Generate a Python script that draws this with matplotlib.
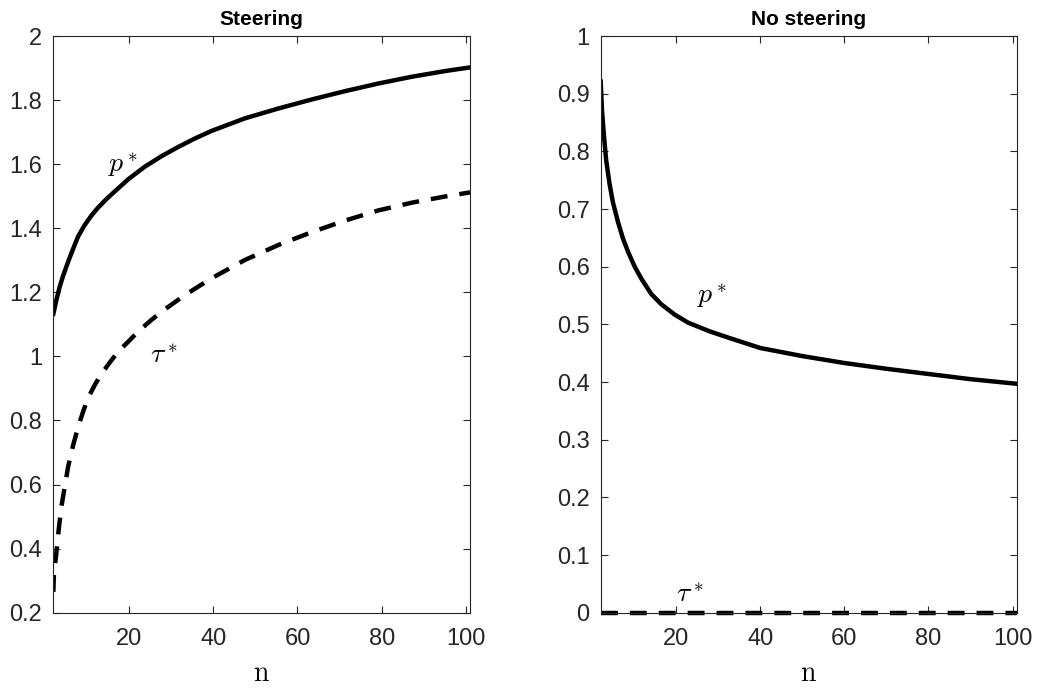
import numpy as np
import matplotlib.pyplot as plt
from matplotlib.ticker import FormatStrFormatter

plt.rcParams['font.family'] = ['Liberation Sans', 'DejaVu Sans']
plt.rcParams['mathtext.fontset'] = 'cm'

# steering
n_p_st = [2, 2.7, 3.5, 4.3, 5.5, 6.7, 7.9, 9.4, 11, 12.6, 14.6, 16.6, 19.8, 23.7, 27.7, 31.7,
          35.6, 39.6, 47.5, 55.5, 63.4, 71.3, 79.3, 87.2, 95.2, 101]
p_st = [1.133, 1.175, 1.217, 1.251, 1.295, 1.336, 1.375, 1.409, 1.439, 1.464, 1.491, 1.515,
        1.553, 1.592, 1.625, 1.654, 1.680, 1.704, 1.743, 1.774, 1.802, 1.828, 1.852, 1.873,
        1.891, 1.902]
n_t_st = [2, 2.14, 2.7, 3.25, 3.9, 4.7, 5.5, 6.7, 7.9, 9.05, 10.2, 11.8, 13.4, 15.4, 17.4, 19.8,
          22.1, 25.3, 28.5, 33.3, 39.6, 47.5, 55.5, 63.4, 71.3, 79.3, 87.2, 95, 101]
t_st = [0.265, 0.322, 0.384, 0.457, 0.530, 0.593, 0.655, 0.723, 0.780, 0.827, 0.869, 0.910,
        0.945, 0.981, 1.015, 1.046, 1.077, 1.114, 1.147, 1.192, 1.244, 1.301, 1.348, 1.388,
        1.424, 1.456, 1.480, 1.499, 1.512]

# no steering
n_p_ns = [2, 2.3, 2.8, 3.3, 4.1, 4.9, 6.1, 7.3, 8.5, 10.1, 11.7, 14, 16.4, 19.6, 22.8, 27.9,
          33, 40, 50, 60, 70, 80, 90, 101]
p_ns = [0.921, 0.872, 0.825, 0.785, 0.744, 0.712, 0.678, 0.649, 0.626, 0.600, 0.579, 0.553,
        0.535, 0.517, 0.503, 0.488, 0.4755, 0.459, 0.445, 0.433, 0.423, 0.414, 0.405, 0.397]
n_t_ns = [2, 101]
t_ns = [0, 0]

fig = plt.figure(figsize=(10.38, 6.89), dpi=100)
ax1 = fig.add_axes([0.0514, 0.1107, 0.4014, 0.837])
ax2 = fig.add_axes([0.5787, 0.1107, 0.4008, 0.837])

gray = '#262626'
lw = 3.2
dash = (3.8, 2.7)

ax1.plot(n_p_st, p_st, color='k', lw=lw)
ax1.plot(n_t_st, t_st, color='k', lw=lw, ls='--', dashes=dash)
ax1.text(15, 1.6, r'$p^*$', fontsize=20, va='center', ha='left')
ax1.text(25, 1.0, r'$\tau^*$', fontsize=20, va='center', ha='left')
ax1.set_ylim(0.2, 2)
ax1.set_yticks(np.arange(0.2, 2.01, 0.2))
ax1.set_title('Steering', fontsize=15, fontweight='bold', pad=8)

ax2.plot(n_p_ns, p_ns, color='k', lw=lw)
ax2.plot(n_t_ns, t_ns, color='k', lw=lw, ls='--', dashes=dash, clip_on=False)
ax2.text(25, 0.55, r'$p^*$', fontsize=20, va='center', ha='left')
ax2.text(20, 0.03, r'$\tau^*$', fontsize=20, va='center', ha='left')
ax2.set_ylim(0, 1)
ax2.set_yticks(np.arange(0, 1.01, 0.1))
ax2.set_title('No steering', fontsize=15, fontweight='bold', pad=8)

for ax in (ax1, ax2):
    ax.set_xlim(2, 101)
    ax.set_xticks([20, 40, 60, 80, 100])
    ax.yaxis.set_major_formatter(FormatStrFormatter('%g'))
    ax.tick_params(direction='in', top=True, right=True, length=5, width=0.8,
                   colors=gray, labelsize=17)
    ax.tick_params(axis='x', pad=11)
    ax.tick_params(axis='y', pad=8)
    for s in ax.spines.values():
        s.set_color(gray)
        s.set_linewidth(0.8)
    ax.set_xlabel(r'$\mathrm{n}$', fontsize=20, labelpad=8)

fig.savefig('out.png', dpi=100)
